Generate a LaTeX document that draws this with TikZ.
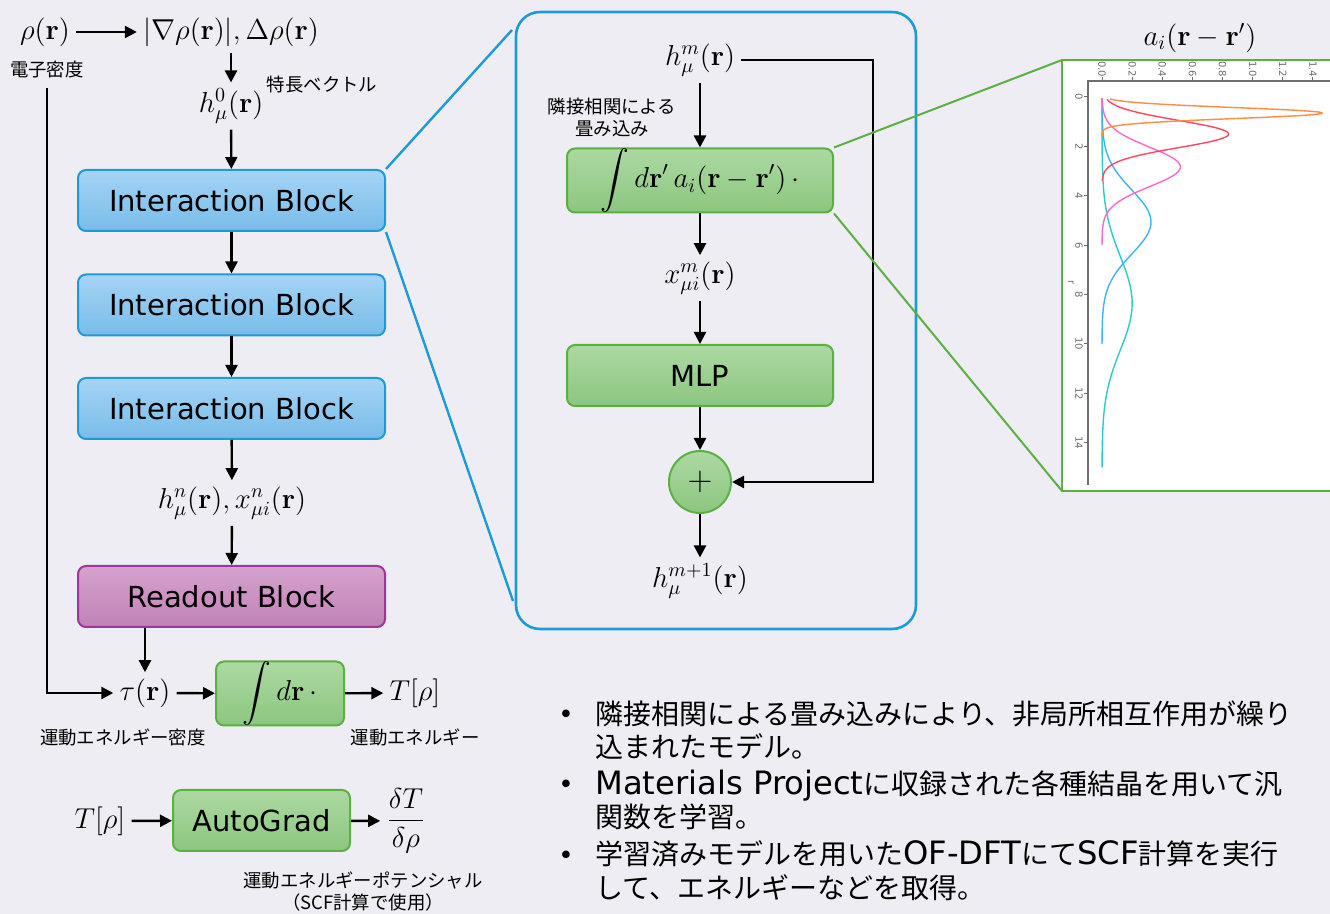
\documentclass[tikz,border=0pt]{standalone}
\usepackage[no-math]{fontspec}
\usepackage{amsmath}
\newfontfamily\jp{Noto Sans CJK JP}
\newfontfamily\lat{DejaVu Sans}
\newfontfamily\latb[Scale=1.15]{DejaVu Sans}
\usetikzlibrary{arrows.meta,calc}
\definecolor{bgc}{RGB}{238,237,243}
\definecolor{ibd}{RGB}{30,155,215}
\definecolor{ibt}{RGB}{165,212,245}
\definecolor{ibb}{RGB}{120,188,233}
\definecolor{gd}{RGB}{92,176,67}
\definecolor{gt}{RGB}{172,217,162}
\definecolor{gb}{RGB}{140,198,127}
\definecolor{rd}{RGB}{162,53,154}
\definecolor{rt}{RGB}{214,162,206}
\definecolor{rb}{RGB}{192,130,181}
\definecolor{cor}{RGB}{255,140,70}
\definecolor{cre}{RGB}{255,70,95}
\definecolor{cpi}{RGB}{255,105,200}
\definecolor{cbl}{RGB}{60,180,250}
\definecolor{cte}{RGB}{40,205,200}
\definecolor{axc}{RGB}{110,110,110}
\begin{document}
\begin{tikzpicture}[x=0.5pt,y=-0.5pt,
  blk/.style={rectangle, rounded corners=4pt, minimum width=153.5pt, minimum height=30.5pt, inner sep=0pt, line width=1pt, font=\lat\fontsize{14.5}{17}\selectfont},
  iblk/.style={blk, draw=ibd, top color=ibt, bottom color=ibb},
  gblk/.style={blk, draw=gd, top color=gt, bottom color=gb},
  rblk/.style={blk, draw=rd, top color=rt, bottom color=rb},
  mth/.style={font=\fontsize{14.5}{17}\selectfont, inner sep=3pt},
  lab/.style={font=\jp\fontsize{9.2}{11}\selectfont, inner sep=0pt},
  bul/.style={font=\jp\fontsize{14}{17}\selectfont, inner sep=0pt, anchor=base west},
  dotb/.style={font=\lat\fontsize{13}{15}\selectfont, inner sep=0pt, anchor=base},
  arr/.style={-{Triangle[length=6pt,width=6pt]}, line width=1.2pt, black},
  zline/.style={ibd, line width=1.2pt},
  gline/.style={gd, line width=1pt},
  tickl/.style={font=\lat\fontsize{5}{6}\selectfont, text=axc, inner sep=0pt, rotate=-90}
]
\useasboundingbox (0,0) rectangle (1330,914);
\fill[bgc] (0,0) rectangle (1330,914);

% ---------- left column ----------
\node[mth] (rho) at (45,32) {$\rho(\mathbf{r})$};
\node[mth] (grad) at (231,32) {$|\nabla\rho(\mathbf{r})|,\Delta\rho(\mathbf{r})$};
\node[lab] (den) at (47,70) {電子密度};
\node[mth] (h0) at (231,106) {$h_\mu^0(\mathbf{r})$};
\node[lab] (feat) at (322,85) {特長ベクトル};
\node[iblk] (ib1) at (231.5,200.5) {Interaction Block};
\node[iblk] (ib2) at (231.5,305) {Interaction Block};
\node[iblk] (ib3) at (231.5,408.5) {Interaction Block};
\node[mth] (hn) at (232,503) {$h_\mu^n(\mathbf{r}),x_{\mu i}^n(\mathbf{r})$};
\node[rblk] (ro) at (231.5,596.5) {Readout Block};
\node[mth] (tau) at (145,693) {$\tau(\mathbf{r})$};
\node[gblk, minimum width=64pt] (intd) at (280,693.5) {$\displaystyle\int d\mathbf{r}\,\cdot$};
\node[mth] (T1) at (415,693) {$T[\rho]$};
\node[lab] (l2) at (123,737) {運動エネルギー密度};
\node[lab] (l3) at (415,737) {運動エネルギー};
\node[mth] (T2) at (100,821) {$T[\rho]$};
\node[gblk, minimum width=88.5pt] (ag) at (261.5,820.5) {AutoGrad};
\node[mth] (fr) at (406,821) {$\dfrac{\delta T}{\delta\rho}$};
\node[lab, align=center] (l4) at (363,892) {運動エネルギーポテンシャル\\（SCF計算で使用）};

\draw[arr] (rho) -- (grad);
\draw[arr] (grad) -- (h0);
\draw[arr] (h0) -- (ib1);
\draw[arr] (ib1) -- (ib2);
\draw[arr] (ib2) -- (ib3);
\draw[arr] (ib3) -- (hn);
\draw[arr] (hn) -- (ro);
\draw[arr] (ro.south -| tau.north) -- (tau.north);
\draw[arr] ($(den.south)+(0,9)$) |- (tau.west);
\draw[arr] (tau) -- (intd);
\draw[arr] (intd) -- (T1);
\draw[arr] (T2) -- (ag);
\draw[arr] (ag) -- (fr);

% ---------- middle detail ----------
\node[draw=ibd, line width=1.3pt, rounded corners=12pt, minimum width=200pt, minimum height=308.5pt, inner sep=0pt] (big) at (716,320.5) {};
\coordinate (zt) at (512,30);
\coordinate (zb) at (513,601);
\draw[zline] (ib1.north east) -- (zt);
\draw[zline] (ib1.south east) -- (zb);

\node[mth] (hm) at (700,60) {$h_\mu^m(\mathbf{r})$};
\node[lab, align=center] (cl) at (612,117) {隣接相関による\\畳み込み};
\node[gblk, minimum width=133pt] (conv) at (700,180.5) {$\displaystyle\int d\mathbf{r}'\, a_i(\mathbf{r}-\mathbf{r}')\,\cdot$};
\node[mth] (xm) at (700,278) {$x_{\mu i}^m(\mathbf{r})$};
\node[gblk, minimum width=133pt] (mlp) at (700,375.5) {MLP};
\node[circle, draw=gd, line width=1pt, top color=gt, bottom color=gb, minimum size=31pt, inner sep=0pt, font=\fontsize{16}{18}\selectfont] (plus) at (700,482) {$+$};
\node[mth] (hm1) at (700,581) {$h_\mu^{m+1}(\mathbf{r})$};
\coordinate (sk) at (873,60);
\draw[arr] (hm) -- (conv);
\draw[arr] (conv) -- (xm);
\draw[arr] (xm) -- (mlp);
\draw[arr] (mlp) -- (plus);
\draw[arr] (plus) -- (hm1);
\draw[arr] (hm.east) -- (hm.east -| sk) |- (plus.east);

% ---------- plot ----------
\coordinate (pt) at (1062,60);
\coordinate (pb) at (1062,491);
\fill[white] (1062,60) rectangle (1345,491);
\draw[gd, line width=1.3pt] (1345,60) -- (pt) -- (pb) -- (1345,491);
\draw[gline] (conv.north east) -- (pt);
\draw[gline] (conv.south east) -- (pb);
\node[mth] (ai) at (1200,38) {$a_i(\mathbf{r}-\mathbf{r}')$};

\draw[axc, line width=0.6pt] (1088,485) -- (1088,81) -- (1345,81);
\foreach \i/\t in {0/0.0,1/0.2,2/0.4,3/0.6,4/0.8,5/1.0,6/1.2,7/1.4}{
  \draw[axc, line width=0.5pt] ({1102+30.14*\i},81) -- ({1102+30.14*\i},77);
  \node[tickl] at ({1102+30.14*\i},69) {\t};
}
\foreach \r in {0,2,4,6,8,10,12,14}{
  \draw[axc, line width=0.5pt] (1088,{97+24.7*\r}) -- (1084,{97+24.7*\r});
  \node[tickl] at (1079,{97+24.7*\r}) {\r};
}
\node[tickl] at (1071,283) {r};

\draw[cte, line width=0.7pt] plot[domain=0.05:15, samples=120, smooth] ({1102+150.7*0.2*exp(-((\x-8.35)*(\x-8.35))/7.22)},{97+24.7*\x});
\draw[cbl, line width=0.7pt] plot[domain=0.05:10, samples=100, smooth] ({1102+150.7*0.325*exp(-((\x-5.06)*(\x-5.06))/3.38)},{97+24.7*\x});
\draw[cpi, line width=0.7pt] plot[domain=0.05:6, samples=100, smooth] ({1102+150.7*0.52*exp(-((\x-2.83)*(\x-2.83))/1.28)},{97+24.7*\x});
\draw[cre, line width=0.7pt] plot[domain=0.1:3.4, samples=100, smooth] ({1102+150.7*0.84*exp(-((\x-1.5)*(\x-1.5))/0.605)},{97+24.7*\x});
\draw[cor, line width=0.7pt] plot[domain=0.08:1.6, samples=120, smooth] ({1102+150.7*1.46*exp(-((\x-0.65)*(\x-0.65))/0.098)},{97+24.7*\x});

% ---------- bullets ----------
\node[dotb] (d1) at (566,724) {•};
\node[dotb] (d2) at (566,794) {•};
\node[dotb] (d3) at (566,864) {•};
\node[bul] (b1) at (595,725) {隣接相関による畳み込みにより、非局所相互作用が繰り};
\node[bul] (b1b) at (595,758) {込まれたモデル。};
\node[bul] (b2) at (595,795) {{\latb Materials Project}に収録された各種結晶を用いて汎};
\node[bul] (b2b) at (595,828) {関数を学習。};
\node[bul] (b3) at (595,865) {学習済みモデルを用いた{\latb OF-DFT}にて{\latb SCF}計算を実行};
\node[bul] (b3b) at (595,899) {して、エネルギーなどを取得。};
\end{tikzpicture}
\end{document}
